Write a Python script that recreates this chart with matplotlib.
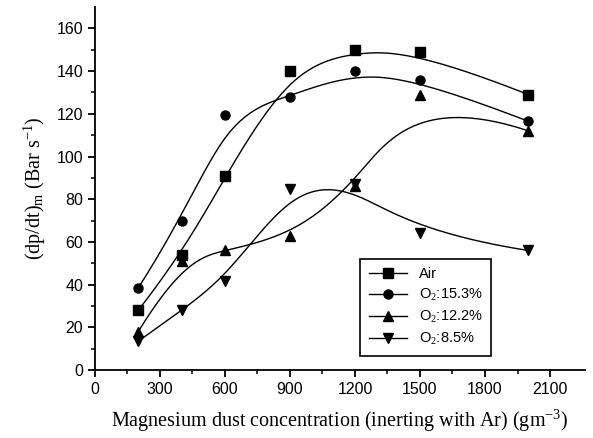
import matplotlib
matplotlib.use('Agg')
import matplotlib.pyplot as plt
import numpy as np

plt.rcParams['mathtext.fontset'] = 'custom'
plt.rcParams['mathtext.rm'] = 'Liberation Serif'
plt.rcParams['mathtext.it'] = 'Liberation Serif:italic'

# dust concentration (g/m3) and rate of pressure rise (bar/s)
conc = [200, 400, 600, 900, 1200, 1500, 2000]
air = [28, 54, 91, 140, 150, 149, 129]
o2_153 = [38.5, 70, 119.5, 128, 140, 136, 116.5]
o2_122 = [18, 51, 56, 63, 86, 129, 112]
o2_85 = [13.5, 28, 41.5, 85, 87, 64, 56]

series = [
    ('Air', air, 's'),
    ('O$_2$:15.3%', o2_153, 'o'),
    ('O$_2$:12.2%', o2_122, '^'),
    ('O$_2$:8.5%', o2_85, 'v'),
]


def bspline(xs, ys, k=3, n=300):
    # clamped uniform B-spline using the data points as control points
    P = np.column_stack([xs, ys]).astype(float)
    m = len(P)
    k = min(k, m - 1)
    knots = np.concatenate([np.zeros(k), np.linspace(0, 1, m - k + 1), np.ones(k)])
    out = []
    for t in np.linspace(0, 1, n):
        if t >= 1:
            out.append(P[-1])
            continue
        j = np.searchsorted(knots, t, side='right') - 1
        d = [P[j - k + i].copy() for i in range(k + 1)]
        for r in range(1, k + 1):
            for i in range(k, r - 1, -1):
                a = (t - knots[j - k + i]) / (knots[i + 1 + j - r] - knots[j - k + i])
                d[i] = (1 - a) * d[i - 1] + a * d[i]
        out.append(d[k])
    out = np.array(out)
    return out[:, 0], out[:, 1]


fig = plt.figure(figsize=(5.93, 4.38), dpi=100)
ax = fig.add_axes([0.160, 0.155, 0.826, 0.829])

for label, vals, mk in series:
    sx, sy = bspline(conc, vals)
    ax.plot(sx, sy, '-', color='black', lw=1.0)
    ax.plot(conc, vals, mk, color='black', ms=6.5, ls='none')
    # legend proxy: line plus marker
    ax.plot([], [], '-', marker=mk, color='black', ms=6.5, lw=1.0, label=label)

ax.set_xlim(0, 2260)
ax.set_ylim(0, 170)
ax.set_xticks(np.arange(0, 2101, 300))
ax.set_xticks(np.arange(150, 2101, 300), minor=True)
ax.set_yticks(np.arange(0, 161, 20))
ax.set_yticks(np.arange(10, 170, 20), minor=True)

for s in ['top', 'right']:
    ax.spines[s].set_visible(False)
for s in ['left', 'bottom']:
    ax.spines[s].set_linewidth(1.3)

ax.tick_params(which='major', direction='out', length=5, width=1.3, labelsize=11.5)
ax.tick_params(which='minor', direction='out', length=3, width=1.1)
for lab in ax.get_xticklabels() + ax.get_yticklabels():
    lab.set_fontfamily('Liberation Sans')

ax.set_xlabel('Magnesium dust concentration (inerting with Ar) (gm$^{-3}$)',
              family='Liberation Serif', fontsize=14.5, labelpad=8)
ax.set_ylabel('(dp/dt)$_\\mathrm{m}$ (Bar s$^{-1}$)',
              family='Liberation Serif', fontsize=14.5, labelpad=6)

leg = ax.legend(loc='lower left', bbox_to_anchor=(0.527, 0.019), fancybox=False,
                edgecolor='black', framealpha=1, handlelength=2.6,
                prop={'family': 'Liberation Sans', 'size': 10.5}, borderpad=0.6,
                labelspacing=0.4)
leg.get_frame().set_linewidth(1.2)

fig.savefig('out.png', dpi=100)
